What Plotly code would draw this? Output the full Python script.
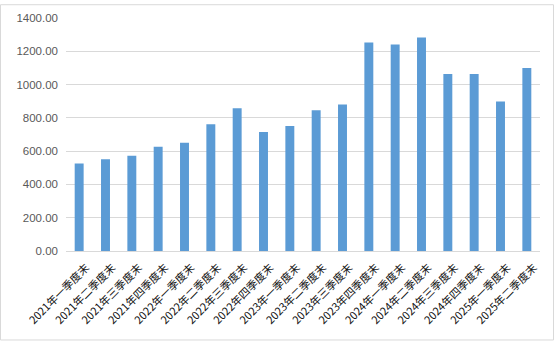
import plotly.graph_objects as go

categories = [
    "2021年一季度末", "2021年二季度末", "2021年三季度末", "2021年四季度末",
    "2022年一季度末", "2022年二季度末", "2022年三季度末", "2022年四季度末",
    "2023年一季度末", "2023年二季度末", "2023年三季度末", "2023年四季度末",
    "2024年一季度末", "2024年二季度末", "2024年三季度末", "2024年四季度末",
    "2025年一季度末", "2025年二季度末",
]
values = [526, 551, 573, 626, 650, 762, 857, 715, 751, 845, 881, 1253,
          1241, 1283, 1064, 1064, 898, 1099]
y_ticks = [0, 200, 400, 600, 800, 1000, 1200, 1400]

W, H = 555, 343
ml, mr, mt, mb = 66, 15, 14, 92
pw, ph = W - ml - mr, H - mt - mb

fig = go.Figure(go.Bar(x=categories, y=values, marker_color="#5B9BD5",
                       marker_line_width=0, width=0.34))

fig.update_layout(
    width=W, height=H,
    margin=dict(l=ml, r=mr, t=mt, b=mb),
    paper_bgcolor="white", plot_bgcolor="white",
    showlegend=False,
    font=dict(family="Noto Sans CJK SC, Liberation Sans, sans-serif"),
    xaxis=dict(tickangle=-45, tickfont=dict(size=11, color="#111111",
               family="Noto Sans CJK SC"), showgrid=False, showline=True,
               linecolor="#D9D9D9", linewidth=1, ticks="",
               ticklabelstandoff=5, ticklabelshift=7),
    yaxis=dict(range=[0, 1400], tickvals=y_ticks,
               ticktext=[f"{v:.2f}" for v in y_ticks],
               tickfont=dict(size=11.5, color="#595959", family="Liberation Sans"),
               gridcolor="#D9D9D9", gridwidth=1, zeroline=False, showline=False,
               ticks="", ticklen=0, ticklabelstandoff=7),
    shapes=[dict(type="rect", xref="paper", yref="paper",
                 x0=-(ml - 0.5) / pw, x1=1 + (mr - 1.5) / pw,
                 y0=-(mb - 1.5) / ph, y1=1 + (mt - 0.5) / ph,
                 line=dict(color="#D9D9D9", width=1), layer="below")],
)

fig.write_html("out.html")
